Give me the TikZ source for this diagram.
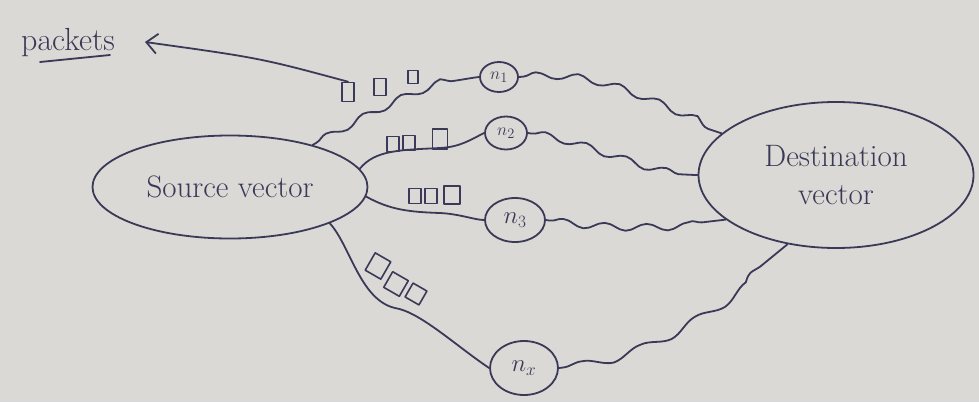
\documentclass[tikz,border=0pt]{standalone}
\usetikzlibrary{shapes.geometric,decorations.pathmorphing,arrows.meta}
\definecolor{paper}{RGB}{219,217,213}
\definecolor{ink}{RGB}{58,58,88}
\begin{document}
\begin{tikzpicture}[x=1pt,y=-1pt,
  every node/.style={text=ink},
  inkline/.style={draw=ink,line width=1.8pt,line cap=round,line join=round},
  wave/.style={inkline,decorate,decoration={snake,amplitude=3.5pt,segment length=42pt,pre length=4pt,post length=4pt}},
  lowwave/.style={inkline,decorate,decoration={snake,amplitude=4pt,segment length=62pt,pre length=4pt,post length=4pt}},
  bigell/.style={inkline,ellipse,inner sep=0pt},
  relay/.style={inkline,ellipse,inner sep=0pt,font=\fontsize{19}{20}\selectfont},
  pkt/.style={inkline,line width=1.6pt,minimum width=12pt,minimum height=15pt,inner sep=0pt}]
\useasboundingbox (0,0) rectangle (979,402);
\fill[paper] (0,0) rectangle (979,402);

% labels / big nodes
\node[font=\fontsize{32}{33}\selectfont,inner sep=1pt] (plabel) at (68,43) {packets};
\coordinate (tip) at (145,42);
\coordinate (ul1) at (40,62);
\coordinate (ul2) at (110,55);
\draw[inkline] (ul1) -- (ul2);

\node[bigell,minimum width=275pt,minimum height=103pt,font=\fontsize{31}{34}\selectfont] (src) at (230,187) {Source vector};
\node[bigell,minimum width=275pt,minimum height=146pt,font=\fontsize{31}{36}\selectfont,align=center] (dst) at (836,175) {Destination\\[2pt]vector};

% relay nodes
\node[relay,minimum width=38pt,minimum height=30pt] (n1) at (499,77) {$n_1$};
\node[relay,minimum width=42pt,minimum height=33pt] (n2) at (506,133) {$n_2$};
\node[relay,minimum width=60pt,minimum height=44pt,font=\fontsize{25}{26}\selectfont] (n3) at (515,220) {$n_3$};
\node[relay,minimum width=68pt,minimum height=54pt,font=\fontsize{25}{26}\selectfont] (nx) at (524,368) {$n_x$};

% packets on path 1
\node[pkt,minimum height=19pt] (p11) at (348,92) {};
\node[pkt,minimum height=17pt] (p12) at (380,87) {};
\node[pkt,minimum width=10pt,minimum height=13pt] (p13) at (413,77) {};
% packets on path 2
\node[pkt] (p21) at (393,144) {};
\node[pkt] (p22) at (409,143) {};
\node[pkt,minimum width=15pt,minimum height=20pt] (p23) at (440,139) {};
% packets on path 3
\node[pkt] (p31) at (415,196) {};
\node[pkt] (p32) at (431,196) {};
\node[pkt,minimum width=16pt,minimum height=18pt] (p33) at (452,195) {};
% packets on path 4
\node[pkt,rotate=-30,minimum width=18pt,minimum height=20pt] (p41) at (378,266) {};
\node[pkt,rotate=-30,minimum width=18pt,minimum height=18pt] (p42) at (396,284) {};
\node[pkt,rotate=-30,minimum width=16pt,minimum height=16pt] (p43) at (416,294) {};

% arrow to packets label
\draw[inkline,-{Straight Barb[length=11pt,width=20pt,line width=1.8pt]}] (p11.north) .. controls (260,58) .. (tip);

% path 1
\draw[wave] (src.27) .. controls (380,108) and (430,82) .. (n1.west);
\draw[wave] (n1.east) .. controls (600,70) and (650,110) .. (dst.160);
% path 2
\draw[inkline] (src.8) .. controls (375,150) and (400,150) .. (440,148) .. controls (460,147) and (470,140) .. (n2.west);
\draw[wave] (n2.east) .. controls (580,140) and (640,175) .. (dst.180);
% path 3
\draw[inkline] (src.-4) .. controls (390,210) and (410,212) .. (440,213) .. controls (460,214) and (475,220) .. (n3.west);
\draw[wave] (n3.east) .. controls (600,228) and (660,228) .. (dst.-158);
% path 4
\draw[inkline] (src.-20) .. controls (350,245) and (360,300) .. (395,308) .. controls (420,312) and (455,345) .. (nx.west);
\draw[lowwave] (nx.east) .. controls (640,360) and (720,300) .. (dst.-125);
\end{tikzpicture}
\end{document}
